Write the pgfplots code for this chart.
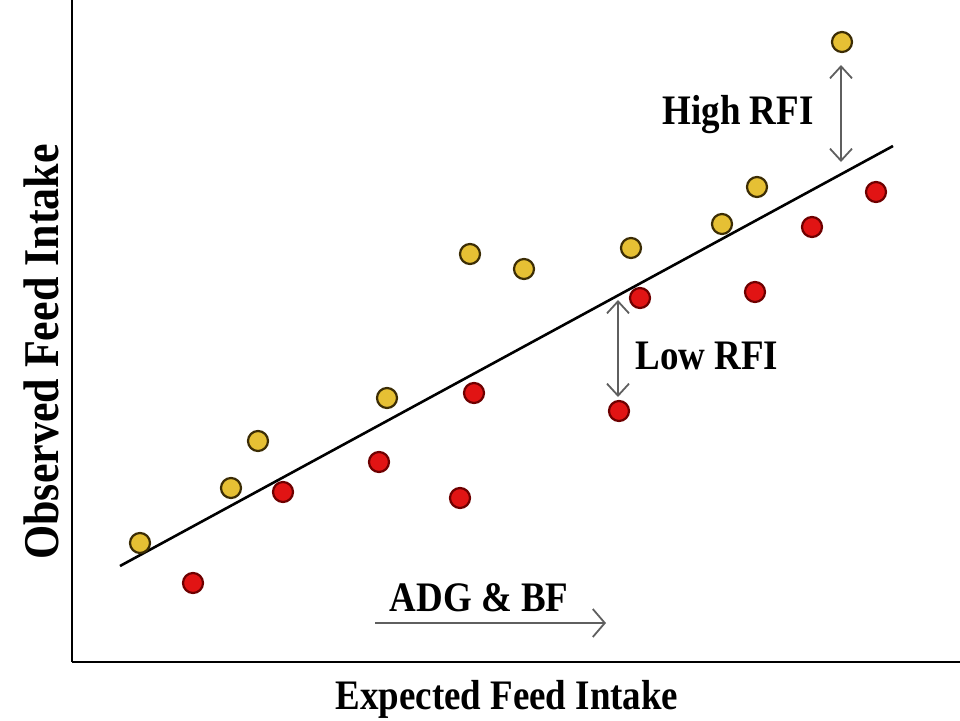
\documentclass[border=0pt]{standalone}
\usepackage{pgfplots}
\pgfplotsset{compat=1.18}
\usepackage{fontspec}
\setmainfont{Liberation Serif}
\newfontfamily\labfont[FakeStretch=0.88]{Liberation Serif}
\usetikzlibrary{arrows.meta}
\definecolor{ygold}{RGB}{230,192,52}
\definecolor{yedge}{RGB}{60,45,5}
\definecolor{rfill}{RGB}{225,20,20}
\definecolor{redge}{RGB}{110,0,0}
\definecolor{agray}{RGB}{95,95,95}
\begin{document}
\begin{tikzpicture}
\begin{axis}[
  scale only axis, width=444pt, height=331pt,
  xmin=72, xmax=960, ymin=58, ymax=720,
  axis x line=bottom, axis y line=left,
  axis line style={line width=1.2pt, -},
  xtick=\empty, ytick=\empty,
  clip=false,
]
\addplot[black, line width=1.3pt] coordinates {(120,154) (893,574)};
\addplot[only marks, mark=*, mark size=5pt, mark options={fill=ygold, draw=yedge, line width=1.1pt}] coordinates {
(140,177) (231,232) (258,279) (387,322) (470,466) (524,451) (631,472) (722,496) (757,533) (842,678)};
\addplot[only marks, mark=*, mark size=5pt, mark options={fill=rfill, draw=redge, line width=1.1pt}] coordinates {
(193,137) (283,228) (379,258) (460,222) (474,327) (619,309) (640,422) (755,428) (812,493) (876,528)};
\draw[agray, line width=0.9pt, {Straight Barb[length=6pt,width=11pt]}-{Straight Barb[length=6pt,width=11pt]}] (axis cs:841,655) -- (axis cs:841,558);
\draw[agray, line width=0.9pt, {Straight Barb[length=6pt,width=11pt]}-{Straight Barb[length=6pt,width=11pt]}] (axis cs:618,420) -- (axis cs:618,323);
\draw[agray, line width=0.9pt, -{Straight Barb[length=6pt,width=14pt]}] (axis cs:375,97) -- (axis cs:606,97);
\node[font=\labfont\bfseries\fontsize{21}{24}\selectfont] at (axis cs:738,605) {High RFI};
\node[font=\labfont\bfseries\fontsize{21}{24}\selectfont] at (axis cs:707,364) {Low RFI};
\node[font=\labfont\bfseries\fontsize{21}{24}\selectfont] at (axis cs:479,122) {ADG \& BF};
\node[font=\labfont\bfseries\fontsize{21}{24}\selectfont, anchor=base] at (axis cs:507,11) {Expected Feed Intake};
\node[font=\labfont\bfseries\fontsize{25}{28}\selectfont, rotate=90] at (axis cs:41,368) {Observed Feed Intake};
\coordinate (bl) at (axis cs:0,0);
\coordinate (tr) at (axis cs:960,720);
\end{axis}
\pgfresetboundingbox
\path (bl) rectangle (tr);
\end{tikzpicture}
\end{document}
